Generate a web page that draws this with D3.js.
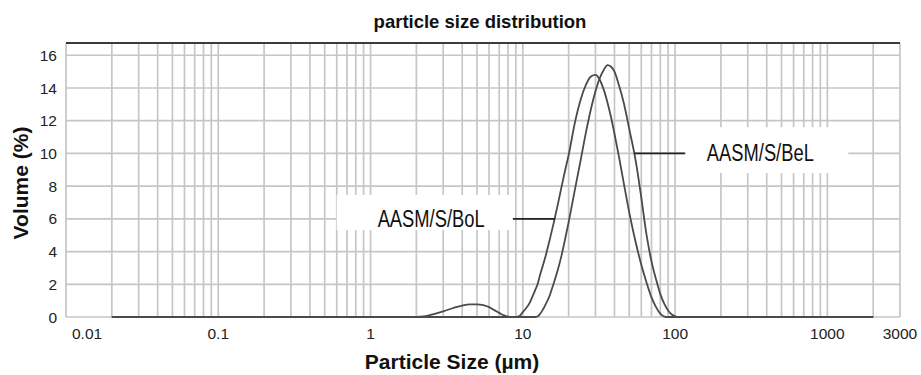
<!DOCTYPE html>
<html>
<head>
<meta charset="utf-8">
<script src="https://cdn.jsdelivr.net/npm/d3@7/dist/d3.min.js"></script>
<style>
  html, body { margin: 0; padding: 0; background: #ffffff; }
  svg { display: block; }
  text { font-family: "Liberation Sans", Arial, Helvetica, sans-serif; }
</style>
</head>
<body>
<svg id="chart" width="921" height="375"></svg>
<script>
// ---------------- DATA ----------------
const chartTitle = "particle size distribution";
const xAxisTitle = "Particle Size (µm)";
const yAxisTitle = "Volume (%)";
const seriesNames = ["AASM/S/BoL", "AASM/S/BeL"];

const sizes = [0.02, 0.1, 1, 2, 2.3, 2.6, 3, 3.5, 4, 4.5, 5, 5.5, 6, 6.5, 7, 7.5, 8, 8.5, 9, 9.5,
  10, 11, 12, 12.5, 13, 14, 15, 16, 17, 18, 19, 20, 22, 24, 26, 28, 30, 32, 34, 36, 38, 40,
  43, 46, 50, 55, 60, 65, 70, 75, 80, 85, 90, 95, 100, 105, 200, 1000, 2000];

const bolValues = [0, 0, 0, 0, 0.05, 0.18, 0.35, 0.55, 0.7, 0.77, 0.77, 0.72, 0.6, 0.42, 0.25, 0.1, 0.02, 0, 0, 0.05,
  0.3, 0.8, 1.6, 2.0, 2.6, 3.6, 4.7, 5.8, 6.9, 8.0, 9.0, 9.9, 11.9, 13.3, 14.2, 14.7, 14.8, 14.5, 13.9, 13.1, 12.2, 11.2,
  9.7, 8.2, 6.4, 4.6, 3.2, 2.1, 1.2, 0.6, 0.2, 0.03, 0, 0, 0, 0, 0, 0, 0];

const belValues = [0, 0, 0, 0, 0, 0, 0, 0, 0, 0, 0, 0, 0, 0, 0, 0, 0, 0, 0, 0,
  0, 0, 0, 0.03, 0.2, 0.7, 1.3, 2.1, 2.9, 3.8, 4.8, 5.8, 7.8, 9.6, 11.3, 12.7, 13.8, 14.6, 15.1, 15.4, 15.3, 15.0,
  14.1, 13.1, 11.5, 9.6, 7.3, 5.0, 3.4, 2.3, 1.4, 0.8, 0.4, 0.15, 0.04, 0, 0, 0, 0];

const xTickValues = [0.01, 0.1, 1, 10, 100, 1000, 3000];
const xTickLabels = ["0.01", "0.1", "1", "10", "100", "1000", "3000"];
const yTickValues = [0, 2, 4, 6, 8, 10, 12, 14, 16];

// ---------------- LAYOUT ----------------
const svg = d3.select("#chart");
const plot = { left: 66, right: 900, top: 43, bottom: 317 };

const x = d3.scaleLog().domain([0.01, 3000]).range([plot.left, plot.right]);
const y = d3.scaleLinear().domain([0, 16.75]).range([plot.bottom, plot.top]);

// minor grid positions: 1..9 times each decade
const gridX = [];
for (let e = -2; e <= 3; e++) {
  for (let m = 1; m <= 9; m++) {
    const v = m * Math.pow(10, e);
    if (v <= 3000 + 1e-9) gridX.push(v);
  }
}

const gridColor = "#c6c6c6";
const g = svg.append("g");

// horizontal gridlines
g.selectAll("line.hgrid").data(yTickValues).enter().append("line")
  .attr("x1", plot.left).attr("x2", plot.right)
  .attr("y1", d => y(d)).attr("y2", d => y(d))
  .attr("stroke", gridColor).attr("stroke-width", 1.7);

// vertical gridlines
g.selectAll("line.vgrid").data(gridX).enter().append("line")
  .attr("x1", d => x(d)).attr("x2", d => x(d))
  .attr("y1", plot.top).attr("y2", plot.bottom)
  .attr("stroke", gridColor).attr("stroke-width", 1.7);

// top dark border
g.append("line")
  .attr("x1", plot.left).attr("x2", plot.right)
  .attr("y1", plot.top).attr("y2", plot.top)
  .attr("stroke", "#3a3a3a").attr("stroke-width", 2.2);

// annotation boxes (white), in data coordinates
const annotations = [
  { name: seriesNames[0], box: [0.6, 8.8, 7.46, 5.32], textAt: [2.5, 6], leader: [8.6, 16.3, 6] },
  { name: seriesNames[1], box: [118, 1374, 11.6, 8.8], textAt: [363, 10], leader: [54, 116, 10] }
];

annotations.forEach(a => {
  g.append("rect")
    .attr("x", x(a.box[0])).attr("width", x(a.box[1]) - x(a.box[0]))
    .attr("y", y(a.box[2])).attr("height", y(a.box[3]) - y(a.box[2]))
    .attr("fill", "#ffffff");
});

// curves
const line = d3.line()
  .x(d => x(d[0]))
  .y(d => y(d[1]))
  .curve(d3.curveMonotoneX);

[bolValues, belValues].forEach(vals => {
  g.append("path")
    .datum(sizes.map((s, i) => [s, vals[i]]))
    .attr("d", line)
    .attr("fill", "none")
    .attr("stroke", "#4a4a4a")
    .attr("stroke-width", 1.8)
    .attr("stroke-linejoin", "round");
});

// leaders and labels
annotations.forEach(a => {
  g.append("line")
    .attr("x1", x(a.leader[0])).attr("x2", x(a.leader[1]))
    .attr("y1", y(a.leader[2])).attr("y2", y(a.leader[2]))
    .attr("stroke", "#222").attr("stroke-width", 1.8);
  g.append("text")
    .attr("x", x(a.textAt[0])).attr("y", y(a.textAt[1]))
    .attr("text-anchor", "middle")
    .attr("dominant-baseline", "central")
    .style("font-family", '"Liberation Sans Narrow", "Arial Narrow", "Liberation Sans", Arial, sans-serif')
    .attr("font-size", 23)
    .attr("textLength", 107)
    .attr("lengthAdjust", "spacingAndGlyphs")
    .attr("fill", "#111")
    .text(a.name);
});

// x tick labels
g.selectAll("text.xt").data(xTickValues).enter().append("text")
  .attr("x", (d, i) => i === 0 ? x(d) + 6 : x(d))
  .attr("y", 339)
  .attr("text-anchor", (d, i) => i === 0 ? "start" : "middle")
  .attr("font-size", 15.5)
  .attr("fill", "#222")
  .text((d, i) => xTickLabels[i]);

// y tick labels
g.selectAll("text.yt").data(yTickValues).enter().append("text")
  .attr("x", 57)
  .attr("y", d => y(d))
  .attr("dy", "0.36em")
  .attr("text-anchor", "end")
  .attr("font-size", 15.5)
  .attr("fill", "#222")
  .text(d => d);

// titles
svg.append("text")
  .attr("x", 480).attr("y", 28)
  .attr("text-anchor", "middle")
  .attr("font-size", 18.5).attr("font-weight", "bold")
  .attr("fill", "#111")
  .text(chartTitle);

svg.append("text")
  .attr("x", 452).attr("y", 369)
  .attr("text-anchor", "middle")
  .attr("font-size", 21).attr("font-weight", "bold")
  .attr("fill", "#111")
  .text(xAxisTitle);

svg.append("text")
  .attr("transform", "translate(28,183) rotate(-90)")
  .attr("text-anchor", "middle")
  .attr("font-size", 21).attr("font-weight", "bold")
  .attr("fill", "#111")
  .text(yAxisTitle);
</script>
</body>
</html>
